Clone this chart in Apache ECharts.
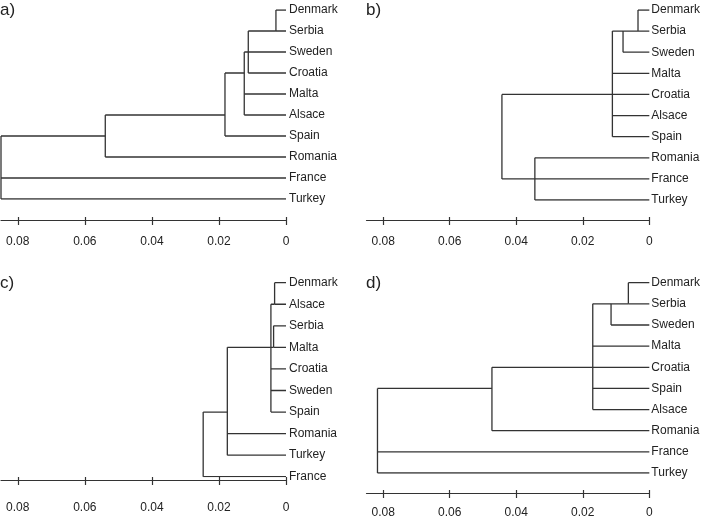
<!DOCTYPE html>
<html>
<head>
<meta charset="utf-8">
<script src="https://cdn.jsdelivr.net/npm/echarts@6/dist/echarts.min.js"></script>
<style>
  html, body { margin: 0; padding: 0; background: #fff; }
  #chart { width: 703px; height: 519px; }
</style>
</head>
<body>
<div id="chart"></div>
<script>
// ---- Data ----
// Leaf order (top to bottom) for each panel
const leavesA = ['Denmark', 'Serbia', 'Sweden', 'Croatia', 'Malta', 'Alsace', 'Spain', 'Romania', 'France', 'Turkey'];
const leavesB = ['Denmark', 'Serbia', 'Sweden', 'Malta', 'Croatia', 'Alsace', 'Spain', 'Romania', 'France', 'Turkey'];
const leavesC = ['Denmark', 'Alsace', 'Serbia', 'Malta', 'Croatia', 'Sweden', 'Spain', 'Romania', 'Turkey', 'France'];
const leavesD = ['Denmark', 'Serbia', 'Sweden', 'Malta', 'Croatia', 'Spain', 'Alsace', 'Romania', 'France', 'Turkey'];

// Trees: [mergeHeight, child1, child2, ...]; a child is a leaf name or a sub-tree
const treeA = [0.085,
  [0.0539,
    [0.0182,
      [0.01245,
        [0.01125, [0.0030, 'Denmark', 'Serbia'], 'Sweden', 'Croatia'],
        'Malta', 'Alsace'],
      'Spain'],
    'Romania'],
  'France', 'Turkey'];

const treeB = [0.0443,
  [0.0111,
    [0.0079, [0.0034, 'Denmark', 'Serbia'], 'Sweden'],
    'Malta', 'Croatia', 'Alsace', 'Spain'],
  [0.0344, 'Romania', 'France', 'Turkey']];

const treeC = [0.0247,
  [0.0175,
    [0.0045, [0.0034, 'Denmark', 'Alsace'], [0.0037, 'Serbia', 'Malta'], 'Croatia', 'Sweden', 'Spain'],
    'Romania', 'Turkey'],
  'France'];

const treeD = [0.0817,
  [0.0473,
    [0.0170,
      [0.0115, [0.0063, 'Denmark', 'Serbia'], 'Sweden'],
      'Malta', 'Croatia', 'Spain', 'Alsace'],
    'Romania'],
  'France', 'Turkey'];

const panelLabels = ['a)', 'b)', 'c)', 'd)'];
const tickValues = [0, 0.02, 0.04, 0.06, 0.08];
const axisMax = 0.085;

// ---- Build segments from trees ----
function buildSegments(tree, leaves) {
  const segs = [];
  function walk(node) {
    if (typeof node === 'string') {
      return { h: 0, y: leaves.indexOf(node) };
    }
    const h = node[0];
    const kids = node.slice(1).map(walk);
    kids.forEach(k => segs.push({ coords: [[k.h, k.y], [h, k.y]] }));
    const yFirst = kids[0].y, yLast = kids[kids.length - 1].y;
    segs.push({ coords: [[h, yFirst], [h, yLast]] });
    return { h: h, y: (yFirst + yLast) / 2 };
  }
  walk(tree);
  return segs;
}

const panels = [
  { tree: treeA, leaves: leavesA, grid: { left: 1, top: 10, width: 285, height: 189 }, offset: 21, margin: 16, labelMargin: 3, title: { left: 0, top: 2 } },
  { tree: treeB, leaves: leavesB, grid: { left: 366.5, top: 10, width: 285.8, height: 190 }, offset: 20, margin: 16, labelMargin: 2, title: { left: 366, top: 2 } },
  { tree: treeC, leaves: leavesC, grid: { left: 1, top: 282.7, width: 285, height: 194 }, offset: 3.3, margin: 22, labelMargin: 3, title: { left: 0, top: 275 } },
  { tree: treeD, leaves: leavesD, grid: { left: 366.5, top: 282.7, width: 285.8, height: 193.3 }, offset: 20, margin: 14, labelMargin: 2, title: { left: 366, top: 275 } }
];

const FONT = 'Liberation Sans, Arial, Helvetica, sans-serif';
const LINE = '#333';

const grids = [], xAxes = [], yAxes = [], series = [], titles = [];
panels.forEach((p, i) => {
  grids.push(Object.assign({ containLabel: false }, p.grid));
  // main axis: line, downward ticks, labels
  xAxes.push({
    type: 'value', gridIndex: i, inverse: true, min: 0, max: axisMax,
    position: 'bottom', offset: p.offset,
    axisLine: { show: true, lineStyle: { color: LINE, width: 1.2 } },
    axisTick: { show: true, length: 5, inside: false, customValues: tickValues, lineStyle: { color: LINE, width: 1.2 } },
    axisLabel: {
      show: true, customValues: tickValues, margin: p.margin,
      fontSize: 12, fontFamily: FONT, color: '#222',
      formatter: v => (v === 0 ? '0' : v.toFixed(2))
    },
    splitLine: { show: false }
  });
  // companion axis: upward tick stubs
  xAxes.push({
    type: 'value', gridIndex: i, inverse: true, min: 0, max: axisMax,
    position: 'bottom', offset: p.offset,
    axisLine: { show: false },
    axisTick: { show: true, length: 3, inside: true, customValues: tickValues, lineStyle: { color: LINE, width: 1.2 } },
    axisLabel: { show: false },
    splitLine: { show: false }
  });
  yAxes.push({
    type: 'category', gridIndex: i, data: p.leaves, inverse: true,
    position: 'right', boundaryGap: false,
    axisLine: { show: false }, axisTick: { show: false }, splitLine: { show: false },
    axisLabel: { show: true, margin: p.labelMargin, fontSize: 12, fontFamily: FONT, color: '#222' }
  });
  series.push({
    type: 'lines', coordinateSystem: 'cartesian2d', polyline: true,
    xAxisIndex: i * 2, yAxisIndex: i, silent: true,
    lineStyle: { color: LINE, width: 1.3, opacity: 1 },
    data: buildSegments(p.tree, p.leaves)
  });
  titles.push({
    text: panelLabels[i], left: p.title.left, top: p.title.top, padding: 0,
    textStyle: { fontSize: 17, fontWeight: 'normal', fontFamily: FONT, color: '#222' }
  });
});

const chart = echarts.init(document.getElementById('chart'), null, { renderer: 'canvas' });
chart.setOption({
  backgroundColor: '#fff',
  animation: false,
  title: titles,
  grid: grids,
  xAxis: xAxes,
  yAxis: yAxes,
  series: series
});
</script>
</body>
</html>
